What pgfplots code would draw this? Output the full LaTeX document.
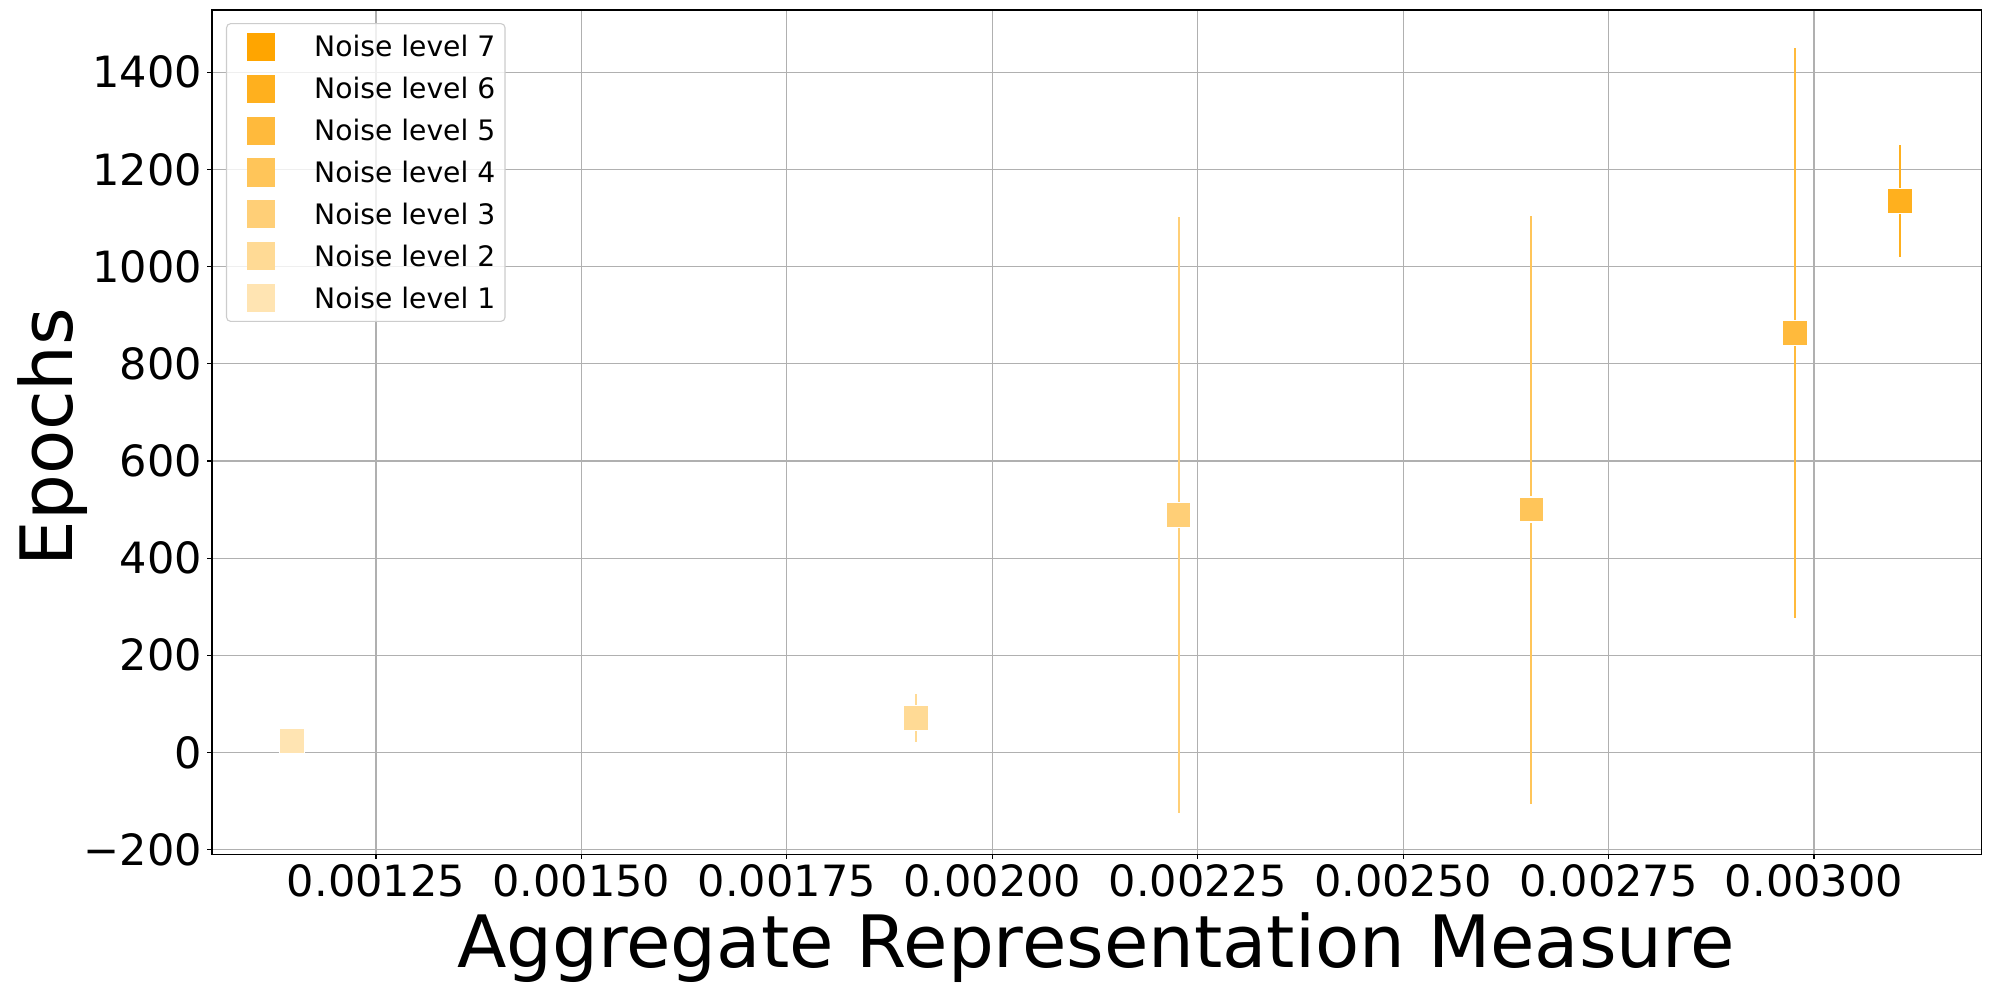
\documentclass[border=0pt]{standalone}
\usepackage{fontspec}
\setmainfont{DejaVu Sans}
\usepackage{pgfplots}
\pgfplotsset{compat=1.18}
% orange at decreasing alpha on white
\definecolor{c1}{RGB}{255,228,178}
\definecolor{c2}{RGB}{255,218,149}
\definecolor{c3}{RGB}{255,207,119}
\definecolor{c4}{RGB}{255,197,89}
\definecolor{c5}{RGB}{255,186,60}
\definecolor{c6}{RGB}{255,176,30}
\definecolor{c7}{RGB}{255,165,0}
\newcommand\sq[1]{\addlegendimage{legend image code/.code={\path (-9.7pt,0pt);\fill[#1,fill opacity=1,sharp corners] (0pt,-9.7pt) rectangle (19.4pt,9.7pt);}}}
\pgfplotsset{pt/.style={only marks, mark=square*, mark size=8.9pt, color=#1,
    mark options={draw=white, line width=1pt, fill=#1},
    error bars/y dir=both, error bars/y explicit, error bars/error mark=none,
    error bars/error bar style={line width=1.5pt, color=#1}, forget plot}}
\begin{document}
\begin{tikzpicture}
\path[use as bounding box] (-152.6pt,-97.2pt) rectangle (1279.4pt,614.9pt);
\begin{axis}[
    at={(0,0)}, anchor=south west,
    scale only axis, width=1273.7pt, height=607.7pt,
    xmin=0.0010504, xmax=0.0032033, ymin=-209, ymax=1528,
    xtick={0.00125,0.0015,0.00175,0.002,0.00225,0.0025,0.00275,0.003},
    xticklabels={0.00125,0.00150,0.00175,0.00200,0.00225,0.00250,0.00275,0.00300},
    scaled x ticks=false,
    ytick={-200,0,200,400,600,800,1000,1200,1400},
    yticklabels={−200,0,200,400,600,800,1000,1200,1400},
    xtick pos=bottom, ytick pos=left,
    tick align=outside, major tick length=3.5pt,
    tick style={black, line width=0.8pt},
    axis line style={line width=0.8pt},
    grid=major, major grid style={color=black!31, line width=0.8pt},
    ticklabel style={font=\fontsize{31}{37}\selectfont},
    xticklabel style={inner sep=3.5pt},
    yticklabel style={inner sep=3.5pt},
    xlabel={Aggregate Representation Measure},
    ylabel={Epochs},
    xlabel style={at={(axis description cs:0.4998,-0.1102)}, anchor=center, font=\fontsize{52}{62}\selectfont},
    ylabel style={at={(axis description cs:-0.0899,0.494)}, anchor=center, font=\fontsize{52}{62}\selectfont},
    legend cell align=left,
    legend style={at={(axis description cs:0,1)}, anchor=north west,
        xshift=10.1pt, yshift=-9.4pt,
        draw=black!20, line width=0.8pt, rounded corners=3pt,
        fill=white, fill opacity=0.8, text opacity=1,
        inner xsep=5pt, inner ysep=5.9pt, row sep=8.8pt, column sep=26.2pt,
        font=\fontsize{20.3}{24}\selectfont,
        nodes={inner sep=2pt, text height=16pt, text depth=1.4pt}},
]
\sq{c7}\addlegendentry{Noise level 7}
\sq{c6}\addlegendentry{Noise level 6}
\sq{c5}\addlegendentry{Noise level 5}
\sq{c4}\addlegendentry{Noise level 4}
\sq{c3}\addlegendentry{Noise level 3}
\sq{c2}\addlegendentry{Noise level 2}
\sq{c1}\addlegendentry{Noise level 1}

\addplot[pt=c1] coordinates {(0.001148,23.5) +- (0,0)};
\addplot[pt=c2] coordinates {(0.001907,71) +- (0,50)};
\addplot[pt=c3] coordinates {(0.002227,489) +- (0,614)};
\addplot[pt=c4] coordinates {(0.002656,500) +- (0,605)};
\addplot[pt=c5] coordinates {(0.002977,863) +- (0,587)};
\addplot[pt=c6] coordinates {(0.0031047,1135) +- (0,115)};
\end{axis}
\end{tikzpicture}
\end{document}
